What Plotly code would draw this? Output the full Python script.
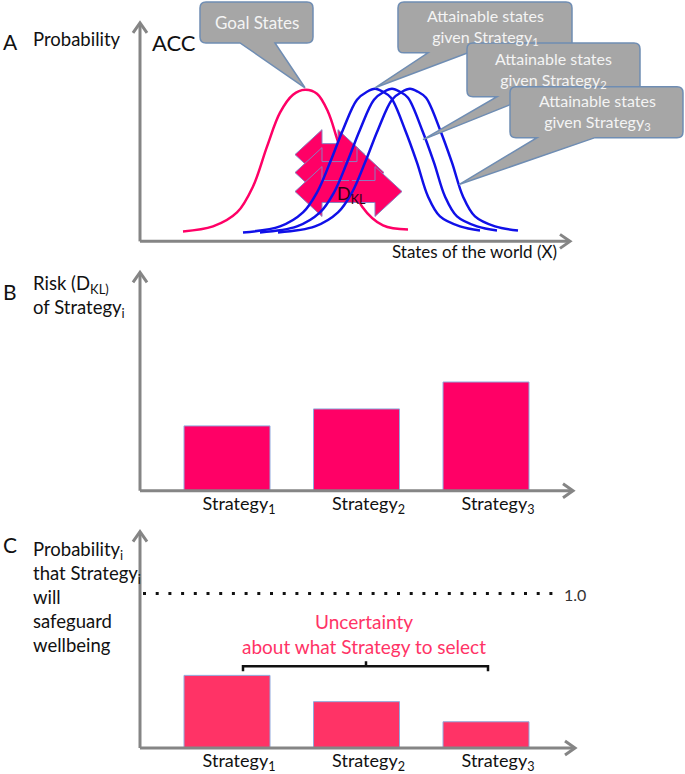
import plotly.graph_objects as go

W, H = 685, 774
FONT = "Lato"


def X(px):
    return px / W


def Y(py):
    return 1 - py / H


# ---------------- data ----------------
strategies = ["Strategy<sub>1</sub>", "Strategy<sub>2</sub>", "Strategy<sub>3</sub>"]
risk_dkl = [0.65, 0.82, 1.09]              # panel B (arbitrary units)
prob_safeguard = [0.47, 0.30, 0.17]        # panel C (probability)

# panel A curves (states of the world vs probability, arbitrary units)
goal_x = [43, 73, 97, 113, 127, 140, 153, 165, 177, 188, 197, 208, 222, 243, 268]
goal_y = [10, 15, 29, 55, 95, 129, 147, 152, 148, 130, 103, 68, 35, 16, 12]
s1_x = [103, 140, 163, 177, 190, 203, 217, 227, 235, 243, 251, 265, 277, 288, 300, 320, 340]
s2_x = [120, 157, 180, 194, 207, 220, 234, 244, 252, 260, 268, 282, 294, 305, 317, 337, 357]
s3_x = [138, 175, 198, 212, 225, 238, 252, 262, 270, 278, 286, 300, 312, 323, 335, 355, 378]
attain_y = [9, 15, 29, 49, 79, 112, 142, 150, 153, 150, 144, 112, 79, 45, 25, 15, 11]

PINK = "#ff0066"
PINK_C = "#ff3366"
BLUE = "#1010e8"
GREY_AX = "#858585"
BAR_EDGE = "#8faadc"

fig = go.Figure()

# ---------------- panel A curves ----------------
fig.add_trace(go.Scatter(x=goal_x, y=goal_y, mode="lines", line=dict(color=PINK, width=2.5, shape="spline", smoothing=1.0),
                         xaxis="x", yaxis="y", hoverinfo="skip"))
for sx in (s1_x, s2_x, s3_x):
    fig.add_trace(go.Scatter(x=sx, y=attain_y, mode="lines", line=dict(color=BLUE, width=2.5, shape="spline", smoothing=1.0),
                             xaxis="x", yaxis="y", hoverinfo="skip"))

# ---------------- panel B / C bars ----------------
fig.add_trace(go.Bar(x=[0, 1, 2], y=risk_dkl, width=0.664, marker=dict(color=PINK, line=dict(color=BAR_EDGE, width=1)),
                     xaxis="x2", yaxis="y2", hoverinfo="skip"))
fig.add_trace(go.Bar(x=[0, 1, 2], y=prob_safeguard, width=0.664, marker=dict(color=PINK_C, line=dict(color=BAR_EDGE, width=1)),
                     xaxis="x3", yaxis="y3", hoverinfo="skip"))

hidden = dict(showgrid=False, zeroline=False, showline=False, showticklabels=False, ticks="", fixedrange=True)
cat_axis = dict(showgrid=False, zeroline=False, showline=False, ticks="", fixedrange=True,
                tickvals=[0, 1, 2], ticktext=strategies, range=[-0.672, 2.664],
                tickfont=dict(family=FONT, size=18, color="#111111"), ticklabelshift=12, ticklabelstandoff=0)

fig.update_layout(
    width=W, height=H, margin=dict(l=0, r=0, t=0, b=0),
    paper_bgcolor="white", plot_bgcolor="rgba(0,0,0,0)", showlegend=False,
    font=dict(family=FONT, color="#111111"),
    xaxis=dict(domain=[X(140), X(570)], range=[0, 430], **hidden),
    yaxis=dict(domain=[Y(242), Y(22)], range=[0, 220], **hidden),
    xaxis2=dict(domain=[X(140), X(572)], anchor="y2", **cat_axis),
    yaxis2=dict(domain=[Y(492), Y(272)], range=[0, 2.2], anchor="x2", **hidden),
    xaxis3=dict(domain=[X(140), X(572)], anchor="y3", **cat_axis),
    yaxis3=dict(domain=[Y(750), Y(532)], range=[0, 1.406], anchor="x3", **hidden),
    bargap=0,
)

shapes = []


def pline(pts, color=GREY_AX, width=3, layer="above"):
    d = "M " + " L ".join(f"{X(a):.5f},{Y(b):.5f}" for a, b in pts)
    shapes.append(dict(type="path", xref="paper", yref="paper", path=d, line=dict(color=color, width=width), layer=layer))


def axis_arrows(x0, ybase, ytop, xend):
    pline([(x0, ybase), (x0, ytop + 1)])
    pline([(x0 - 7, ytop + 10), (x0, ytop), (x0 + 7, ytop + 10)])
    pline([(x0, ybase), (xend - 1, ybase)])
    pline([(xend - 10, ybase - 7), (xend, ybase), (xend - 10, ybase + 7)])


axis_arrows(140, 242, 23, 570)
axis_arrows(140, 492, 273, 573)
axis_arrows(140, 750, 533, 575)


# ---- DKL double arrows (panel A) ----
def dbl_arrow(xl, xr, yc, head=27, hh=25, sh=11):
    pts = [(xl, yc), (xl + head, yc - hh), (xl + head, yc - sh), (xr - head, yc - sh), (xr - head, yc - hh),
           (xr, yc), (xr - head, yc + hh), (xr - head, yc + sh), (xl + head, yc + sh), (xl + head, yc + hh)]
    d = "M " + " L ".join(f"{X(a):.5f},{Y(b):.5f}" for a, b in pts) + " Z"
    shapes.append(dict(type="path", xref="paper", yref="paper", path=d, fillcolor=PINK,
                       line=dict(color="#8a7fc0", width=1), layer="below"))


dbl_arrow(295, 365, 155)
dbl_arrow(295, 384, 173)
dbl_arrow(295, 402, 192)


# ---- callouts ----
def callout(x0, y0, x1, y1, base_l, base_r, tip, r=6):
    def p(a, b):
        return f"{X(a):.5f},{Y(b):.5f}"
    d = (f"M {p(x0 + r, y0)} L {p(x1 - r, y0)} Q {p(x1, y0)} {p(x1, y0 + r)} "
         f"L {p(x1, y1 - r)} Q {p(x1, y1)} {p(x1 - r, y1)} "
         f"L {p(base_r, y1)} L {p(*tip)} L {p(base_l, y1)} "
         f"L {p(x0 + r, y1)} Q {p(x0, y1)} {p(x0, y1 - r)} "
         f"L {p(x0, y0 + r)} Q {p(x0, y0)} {p(x0 + r, y0)} Z")
    shapes.append(dict(type="path", xref="paper", yref="paper", path=d, fillcolor="#a6a6a6",
                       line=dict(color="#6f8db3", width=1.5), layer="above"))


callout(200, 2, 313, 43, 240, 275, (305, 88))
callout(398, 2, 572, 53, 428, 468, (375, 88))
callout(467, 43, 640, 97, 497, 530, (423, 140))
callout(510, 87, 683, 138, 537, 595, (459, 185))

# ---- dotted 1.0 line (panel C) ----
shapes.append(dict(type="line", xref="paper", yref="y3", x0=X(143), x1=X(557), y0=1.0, y1=1.0,
                   line=dict(color="#111111", width=3, dash="3px,9.7px"), layer="above"))

# ---- brace (panel C) ----
pline([(243, 673), (243, 668), (366, 668), (366, 663), (366, 668), (488, 668), (488, 673)],
      color="#111111", width=2.5)

fig.update_layout(shapes=shapes)

ann = []


def txt(x, y, s, size=16, color="#111111", anchor="left"):
    ann.append(dict(x=X(x), y=Y(y), xref="paper", yref="paper", text=s, showarrow=False,
                    xanchor=anchor, yanchor="middle", font=dict(family=FONT, size=size, color=color)))


# panel A
txt(1, 42, "A", 21)
txt(31, 39, "Probability", 18.5)
txt(150, 43, "ACC", 22)
txt(390, 252, "States of the world (X)", 17)
txt(351, 195, "D<sub>KL</sub>", 18, color="#300012", anchor="center")
WHITE_T = "#f4f4f4"
txt(257, 23, "Goal States", 17, WHITE_T, "center")
txt(485, 27, "Attainable states<br>given Strategy<sub>1</sub>", 16, WHITE_T, "center")
txt(553, 70, "Attainable states<br>given Strategy<sub>2</sub>", 16, WHITE_T, "center")
txt(597, 112, "Attainable states<br>given Strategy<sub>3</sub>", 16, WHITE_T, "center")

# panel B
txt(1, 292, "B", 21)
txt(31, 285, "Risk (D<sub>KL)</sub>", 18.5)
txt(31, 309, "of Strategy<sub>i</sub>", 18.5)

# panel C
txt(1, 546, "C", 21)
txt(31, 552, "Probability<sub>i</sub>", 18.5)
txt(31, 576, "that Strategy<sub>i</sub>", 18.5)
txt(31, 599, "will", 18.5)
txt(31, 623, "safeguard", 18.5)
txt(31, 647, "wellbeing", 18.5)
txt(562, 596, "1.0", 16, "#333333")
txt(364, 623, "Uncertainty", 19, PINK_C, "center")
txt(364, 648, "about what Strategy to select", 19, PINK_C, "center")

fig.update_layout(annotations=ann)

fig.write_html("out.html", config={"displayModeBar": False, "staticPlot": True},
               post_script="document.body.style.margin='0';")
